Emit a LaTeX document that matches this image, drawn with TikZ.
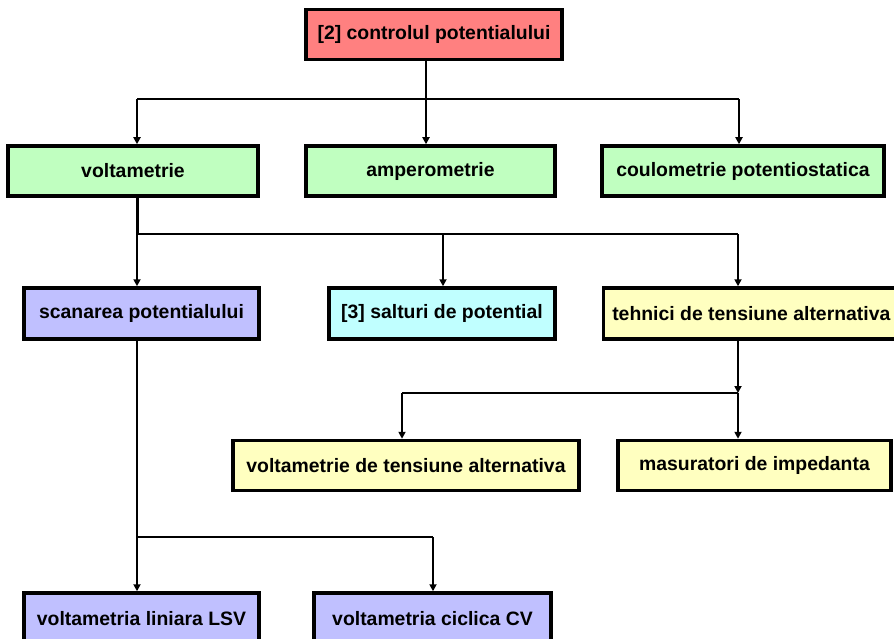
\documentclass[tikz,border=0pt]{standalone}
\usepackage{fontspec}
\setmainfont{Liberation Sans}
\usetikzlibrary{arrows.meta}
\definecolor{boxred}{HTML}{FF8080}
\definecolor{boxgreen}{HTML}{C0FFC0}
\definecolor{boxblue}{HTML}{C0C0FF}
\definecolor{boxcyan}{HTML}{C0FFFF}
\definecolor{boxyellow}{HTML}{FFFFC0}
\begin{document}
\begin{tikzpicture}[x=1pt,y=-1pt,
    box/.style={draw=black,line width=3.5pt,inner sep=0pt,minimum height=50pt,
      font=\fontsize{19.4}{22}\selectfont\bfseries},
    link/.style={line width=2pt},
    arr/.style={line width=2pt,-{Triangle[length=7pt,width=7pt]}}]
    \useasboundingbox (0,0) rectangle (894,639);
    \node[box,fill=boxred,minimum width=256pt] (ctrl) at (434,34.5) {[2] controlul potentialului};
    \node[box,fill=boxgreen,minimum width=250pt] (volt) at (133,171) {voltametrie};
    \node[box,fill=boxgreen,minimum width=249pt] (amper) at (430.5,171) {amperometrie};
    \node[box,fill=boxgreen,minimum width=282pt] (coul) at (743,171) {coulometrie potentiostatica};
    \node[box,fill=boxblue,minimum width=235pt,minimum height=51pt] (scan) at (141.5,313.5) {scanarea potentialului};
    \node[box,fill=boxcyan,minimum width=226pt,minimum height=51pt] (salt) at (442,313.5) {[3] salturi de potential};
    \node[box,fill=boxyellow,minimum height=51pt,anchor=west,inner xsep=9pt] (tehn) at (601.5,313.5) {tehnici de tensiune alternativa};
    \node[box,fill=boxyellow,minimum width=346pt] (vta) at (406,465.5) {voltametrie de tensiune alternativa};
    \node[box,fill=boxyellow,minimum width=273pt] (imp) at (754.5,465.5) {masuratori de impedanta};
    \node[box,fill=boxblue,minimum width=235pt,minimum height=51pt] (lsv) at (141.5,618.5) {voltametria liniara LSV};
    \node[box,fill=boxblue,minimum width=237pt,minimum height=51pt] (cv) at (432.5,618.5) {voltametria ciclica CV};

    \coordinate (j1) at (426,99);
    \coordinate (j1a) at (137,99);
    \coordinate (j1b) at (739,99);
    \draw[link] (ctrl.south -| j1) -- (j1);
    \draw[link] (j1a) -- (j1b);
    \draw[arr] (j1a) -- (j1a |- volt.north);
    \draw[arr] (j1) -- (j1 |- amper.north);
    \draw[arr] (j1b) -- (j1b |- coul.north);

    \coordinate (j2) at (137,234);
    \coordinate (j2a) at (443,234);
    \coordinate (j2b) at (738,234);
    \draw[line width=3pt] (volt.south -| j2) -- (j2);
    \draw[link] (j2) -- (j2b);
    \draw[arr] (j2) -- (j2 |- scan.north);
    \draw[arr] (j2a) -- (j2a |- salt.north);
    \draw[arr] (j2b) -- (j2b |- tehn.north);

    \coordinate (j3) at (738,393);
    \coordinate (j3a) at (402,393);
    \draw[arr] (tehn.south -| j3) -- (j3);
    \draw[link] (j3) -- (j3a);
    \draw[arr] (j3a) -- (j3a |- vta.north);
    \draw[arr] (j3) -- (j3 |- imp.north);

    \coordinate (j4) at (137,537);
    \coordinate (j4a) at (433,537);
    \draw[link] (scan.south -| j4) -- (j4);
    \draw[link] (j4) -- (j4a);
    \draw[arr] (j4) -- (j4 |- lsv.north);
    \draw[arr] (j4a) -- (j4a |- cv.north);
  \end{tikzpicture}
\end{document}
